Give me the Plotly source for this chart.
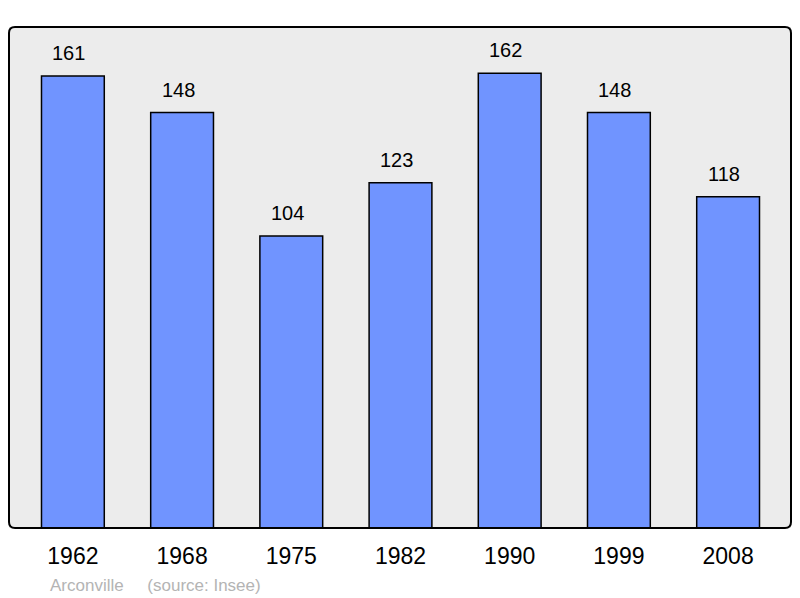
import plotly.graph_objects as go

years = ["1962", "1968", "1975", "1982", "1990", "1999", "2008"]
population = [161, 148, 104, 123, 162, 148, 118]
footer_place = "Arconville"
footer_source = "(source: Insee)"

W, H = 800, 598
L, T, R, B = 9, 27, 9, 70
pw, ph = W - L - R, H - T - B

fig = go.Figure()
fig.add_trace(go.Bar(
    x=list(range(len(years))), y=population,
    width=0.575,
    marker=dict(color="#7094ff", line=dict(color="#000000", width=1.5)),
    hoverinfo="skip",
))

for i, v in enumerate(population):
    fig.add_annotation(x=i, y=v, text=str(v), showarrow=False,
                       xanchor="center", yanchor="bottom", yshift=10, xshift=-4,
                       font=dict(family="Liberation Sans, Arial, sans-serif", size=20, color="#000000"))

fig.add_annotation(xref="paper", yref="paper", x=(48 - L) / pw, y=(T + ph - 585) / ph,
                   xanchor="left", yanchor="middle", showarrow=False,
                   text=footer_place + "&nbsp;&nbsp;&nbsp;&nbsp;&nbsp;" + footer_source,
                   font=dict(family="Liberation Sans, Arial, sans-serif", size=17, color="#b4b4b4"))

# frame with rounded corners in paper coords
rx = 6 / pw
ry = 6 / ph
path = (f"M {rx},0 L {1-rx},0 Q 1,0 1,{ry} L 1,{1-ry} Q 1,1 {1-rx},1 "
        f"L {rx},1 Q 0,1 0,{1-ry} L 0,{ry} Q 0,0 {rx},0 Z")
fig.add_shape(type="path", xref="paper", yref="paper", path=path,
              line=dict(color="#000000", width=2), layer="above")

fig.update_layout(
    width=W, height=H,
    margin=dict(l=L, r=R, t=T, b=B, pad=0),
    paper_bgcolor="#ffffff", plot_bgcolor="#ececec",
    showlegend=False,
    xaxis=dict(range=[-0.585, 6.576], tickmode="array", tickvals=list(range(len(years))),
               ticktext=years, showgrid=False, zeroline=False, showline=False,
               ticks="outside", ticklen=7, tickcolor="rgba(0,0,0,0)",
               tickfont=dict(family="Liberation Sans, Arial, sans-serif", size=23, color="#000000")),
    yaxis=dict(range=[0, 178.5], showgrid=False, zeroline=False, showline=False,
               showticklabels=False, ticks=""),
)

fig.write_html("out.html", config={"displayModeBar": False},
               post_script="document.body.style.margin='0';document.body.style.overflow='hidden';")
